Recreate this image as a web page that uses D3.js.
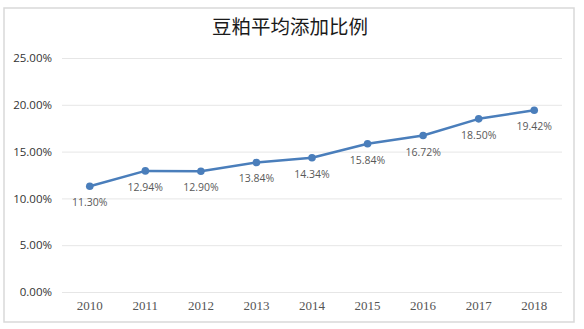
<!DOCTYPE html>
<html><head><meta charset="utf-8">
<script src="https://cdn.jsdelivr.net/npm/d3@7"></script>
<style>body{margin:0;background:#fff}svg{display:block}</style>
</head><body>
<script>
const years = ["2010","2011","2012","2013","2014","2015","2016","2017","2018"];
const values = [0.1130,0.1294,0.1290,0.1384,0.1434,0.1584,0.1672,0.1850,0.1942];
const yTicks = [0,0.05,0.10,0.15,0.20,0.25];
const title = "豆粕平均添加比例";

const W=584,H=329;
const svg=d3.select("body").append("svg").attr("width",W).attr("height",H);
svg.append("rect").attr("x",4).attr("y",8).attr("width",570).attr("height",314)
  .attr("fill","#fff").attr("stroke","#d9d9d9").attr("stroke-width",1.5);
svg.append("text").attr("x",290).attr("y",34).attr("text-anchor","middle")
  .attr("font-family","'Noto Sans CJK SC'").attr("font-size",19.5).attr("font-weight",400).attr("fill","#1a1a1a").text(title);

const x=d3.scaleBand().domain(years).range([62,562]);
const y=d3.scaleLinear().domain([0,0.25]).range([292,58]);

const fmt=d3.format(".2%");
const gy=svg.append("g").attr("transform","translate(62,0)")
  .call(d3.axisLeft(y).tickValues(yTicks).tickFormat(fmt).tickSize(-500).tickPadding(10));
gy.select(".domain").remove();
gy.selectAll("line").attr("stroke","#e6e6e6").attr("stroke-width",1);
gy.selectAll("text").attr("font-family","'Open Sans', 'Liberation Sans', sans-serif").attr("font-size",11.5).attr("fill","#333");

const gx=svg.append("g").attr("transform","translate(0,292)")
  .call(d3.axisBottom(x).tickSize(0).tickPadding(9));
gx.select(".domain").remove();
gx.selectAll("text").attr("font-family","'Liberation Serif', serif").attr("font-size",13).attr("fill","#555");

const cx=d=>x(d)+x.bandwidth()/2;
const line=d3.line().x((d,i)=>cx(years[i])).y(d=>y(d));
svg.append("path").datum(values).attr("d",line).attr("fill","none")
  .attr("stroke","#4a7ebb").attr("stroke-width",2.5).attr("stroke-linejoin","round");
svg.selectAll("circle.pt").data(values).enter().append("circle")
  .attr("cx",(d,i)=>cx(years[i])).attr("cy",d=>y(d)).attr("r",3.8).attr("fill","#4a7ebb");
svg.selectAll("text.lbl").data(values).enter().append("text")
  .attr("x",(d,i)=>cx(years[i])).attr("y",d=>y(d)+20).attr("text-anchor","middle")
  .attr("font-family","'Open Sans', 'Liberation Sans', sans-serif").attr("font-size",10.5).attr("fill","#595959")
  .text(d=>fmt(d));
</script>
</body></html>
